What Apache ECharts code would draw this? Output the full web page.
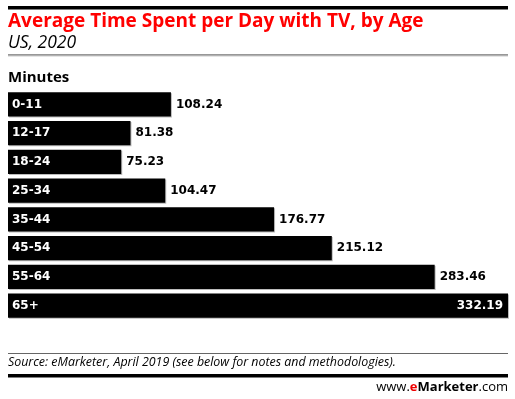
<!DOCTYPE html>
<html>
<head>
<meta charset="utf-8">
<script src="https://cdn.jsdelivr.net/npm/echarts@6/dist/echarts.min.js"></script>
<style>
  html, body { margin: 0; padding: 0; background: #fff; }
  #main { width: 515px; height: 399px; }
</style>
</head>
<body>
<div id="main"></div>
<script>
var ages = ['0-11', '12-17', '18-24', '25-34', '35-44', '45-54', '55-64', '65+'];
var minutes = [108.24, 81.38, 75.23, 104.47, 176.77, 215.12, 283.46, 332.19];

var myChart = echarts.init(document.getElementById('main'));

var maxVal = Math.max.apply(null, minutes);

option = {
    animation: false,
    grid: {
        left: 8,
        right: 7,
        top: 90,
        bottom: 79
    },
    xAxis: {
        type: 'value',
        min: 0,
        max: maxVal,
        show: false
    },
    yAxis: {
        type: 'category',
        data: ages,
        inverse: true,
        z: 10,
        axisLine: { show: false },
        axisTick: { show: false },
        axisLabel: {
            inside: true,
            margin: 4,
            color: '#fff',
            fontFamily: 'DejaVu Sans',
            fontWeight: 'bold',
            fontSize: 12
        }
    },
    series: [{
        type: 'bar',
        barCategoryGap: '15%',
        itemStyle: {
            color: '#000',
            shadowColor: '#bbb',
            shadowOffsetX: 1,
            shadowOffsetY: 1,
            shadowBlur: 0
        },
        label: {
            show: true,
            position: 'right',
            distance: 5,
            color: '#000',
            fontFamily: 'DejaVu Sans',
            fontWeight: 'bold',
            fontSize: 12,
            formatter: function (p) { return p.value.toFixed(2); }
        },
        data: minutes.map(function (v) {
            if (v === maxVal) {
                return { value: v, label: { position: 'insideRight', color: '#fff', distance: 5 } };
            }
            return v;
        })
    }],
    graphic: [
        { type: 'rect', shape: { x: 8, y: 6, width: 500, height: 3.5 }, style: { fill: '#000' } },
        { type: 'text', left: 8, top: 12, style: { text: 'Average Time Spent per Day with TV, by Age', fill: '#f00', font: 'bold 19px "Open Sans"' } },
        { type: 'text', left: 8, top: 34, style: { text: 'US, 2020', fill: '#000', font: 'italic 17.5px "Open Sans"' } },
        { type: 'rect', shape: { x: 8, y: 54.5, width: 500, height: 1 }, style: { fill: '#333' } },
        { type: 'rect', shape: { x: 8, y: 55.5, width: 500, height: 1 }, style: { fill: '#ccc' } },
        { type: 'text', left: 8, top: 70, style: { text: 'Minutes', fill: '#000', font: 'bold 15px "Open Sans"' } },
        { type: 'rect', shape: { x: 8, y: 353, width: 500, height: 1 }, style: { fill: '#666' } },
        { type: 'text', left: 8, top: 356, style: { text: 'Source: eMarketer, April 2019 (see below for notes and methodologies).', fill: '#000', font: 'italic 12.4px "Open Sans"' } },
        { type: 'rect', shape: { x: 8, y: 374, width: 500, height: 3.5 }, style: { fill: '#000' } },
        {
            type: 'text', right: 7, top: 381,
            style: {
                text: '{n|www.}{r|e}{b|Marketer}{n|.com}',
                rich: {
                    n: { fill: '#000', font: '13px "Open Sans"' },
                    r: { fill: '#e00', font: 'bold 13px "Open Sans"' },
                    b: { fill: '#000', font: 'bold 13px "Open Sans"' }
                }
            }
        }
    ]
};

myChart.setOption(option);
</script>
</body>
</html>
